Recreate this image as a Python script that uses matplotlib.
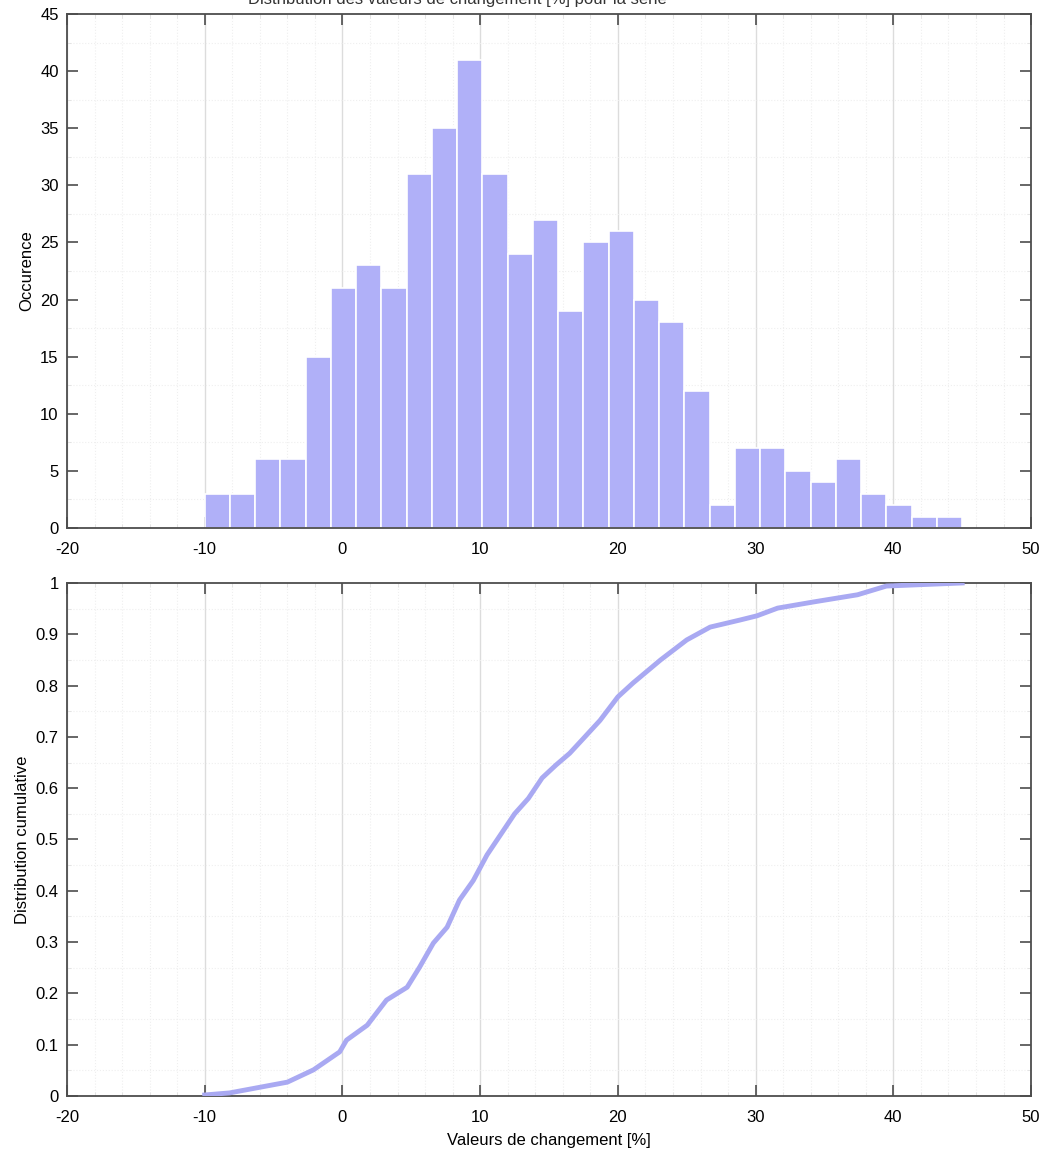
import numpy as np
import matplotlib
matplotlib.use('Agg')
import matplotlib.pyplot as plt
from matplotlib.ticker import MultipleLocator

# histogram: 30 bins from -10 to 45
bin_start = -10
bin_stop = 45
counts = [3, 3, 6, 6, 15, 21, 23, 21, 31, 35, 41, 31, 24, 27, 19,
          25, 26, 20, 18, 12, 2, 7, 7, 5, 4, 6, 3, 2, 1, 1]

# cumulative distribution
cdf_x = [-10.0, -8.2, -5.8, -4.0, -2.1, -0.2, 0.3, 1.8, 3.2, 4.7, 5.6, 6.6, 7.6, 8.5,
         9.5, 10.5, 11.5, 12.5, 13.5, 14.5, 15.5, 16.5, 17.5, 18.7, 20.0, 21.1,
         23.1, 25.0, 26.7, 28.9, 30.1, 31.6, 34.2, 37.4, 39.5, 45.0]
cdf_y = [0.002, 0.006, 0.018, 0.027, 0.051, 0.086, 0.109, 0.138, 0.187, 0.212, 0.251,
         0.298, 0.329, 0.382, 0.42, 0.47, 0.51, 0.55, 0.58, 0.62, 0.645, 0.668, 0.697,
         0.732, 0.778, 0.805, 0.850, 0.889, 0.914, 0.928, 0.936, 0.951, 0.963, 0.977,
         0.994, 1.0]

xticks = [-20, -10, 0, 10, 20, 30, 40, 50]

plt.rcParams['font.family'] = ['Liberation Sans', 'DejaVu Sans']
plt.rcParams['font.size'] = 12
plt.rcParams['axes.unicode_minus'] = False

bar_col = '#b0b0f8'
line_col = '#a9a9f2'
axis_col = '#4d4d4d'

fig = plt.figure(figsize=(10.4, 11.56), dpi=100)
ax1 = fig.add_axes([0.0644, 0.5433, 0.927, 0.4446])
ax2 = fig.add_axes([0.0644, 0.0519, 0.927, 0.4438])

edges = np.linspace(bin_start, bin_stop, len(counts) + 1)
ax1.bar(edges[:-1], counts, width=np.diff(edges), align='edge',
        color=bar_col, edgecolor='white', linewidth=1.2, zorder=2)
ax1.set_xlim(-20, 50)
ax1.set_ylim(0, 45)
ax1.yaxis.set_major_locator(MultipleLocator(5))
ax1.yaxis.set_minor_locator(MultipleLocator(2.5))
ax1.set_ylabel('Occurence')

ax2.plot(cdf_x, cdf_y, color=line_col, linewidth=3.5, zorder=3)
ax2.set_xlim(-20, 50)
ax2.set_ylim(0, 1)
ax2.yaxis.set_minor_locator(MultipleLocator(0.05))
ax2.set_yticks(np.arange(0, 1.01, 0.1))
ax2.set_yticklabels(['0', '0.1', '0.2', '0.3', '0.4', '0.5', '0.6', '0.7', '0.8', '0.9', '1'])
ax2.set_ylabel('Distribution cumulative')
ax2.set_xlabel('Valeurs de changement [%]', labelpad=6)

for ax in (ax1, ax2):
    ax.set_xticks(xticks)
    ax.xaxis.set_minor_locator(MultipleLocator(2))
    ax.grid(True, which='major', axis='x', color='#dcdcdc', linewidth=1, zorder=0)
    ax.grid(True, which='minor', color='#efefef', linestyle=':', linewidth=0.8, zorder=0)
    ax.set_axisbelow(True)
    ax.tick_params(which='major', direction='in', length=8, width=1.2,
                   top=True, right=True, color=axis_col, labelsize=12)
    ax.tick_params(axis='x', which='major', pad=10)
    ax.tick_params(axis='y', which='major', pad=6)
    ax.tick_params(which='minor', direction='in', length=3, width=0.6,
                   top=True, right=True, color='#e0e0e0')
    for s in ax.spines.values():
        s.set_color(axis_col)
        s.set_linewidth(1.3)

# title partly cut off at the top edge in the original
fig.text(0.44, 0.994, 'Distribution des valeurs de changement [%] pour la série',
         ha='center', va='bottom', fontsize=12, color='#333333')

plt.savefig('out.png', dpi=100)
plt.close()
